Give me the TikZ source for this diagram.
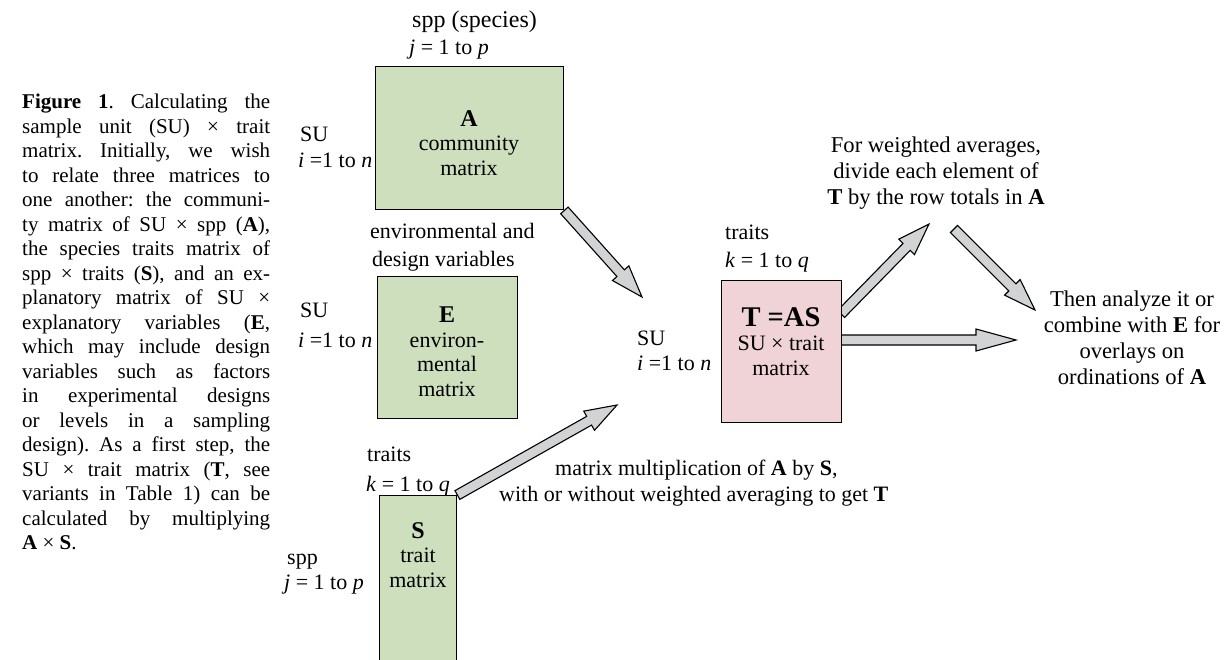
\documentclass[tikz,border=0pt]{standalone}
\usepackage{fontspec}
\setmainfont{Liberation Serif}
\usetikzlibrary{calc,backgrounds}
\definecolor{boxgreen}{RGB}{206,223,189}
\definecolor{boxpink}{RGB}{240,211,214}
\definecolor{arrowgray}{RGB}{210,211,213}
\tikzset{
  mbox/.style={draw=black, line width=1.4pt, inner sep=0pt, anchor=north west},
  boxtext/.style={inner sep=0pt, align=center, anchor=north, font=\fontsize{22}{24.5}\selectfont},
  lbl/.style={inner sep=0pt, anchor=base west, font=\fontsize{22}{26}\selectfont},
  ctext/.style={inner sep=0pt, align=center, font=\fontsize{22.6}{26}\selectfont},
  barrow/.style={draw=black, line width=1.1pt, fill=arrowgray, line join=miter},
  caption/.style={inner sep=0pt, anchor=north west, align=left, font=\fontsize{21}{24.5}\selectfont},
}
% block arrow from #2 to #3, head length #1
\newcommand{\blockarrow}[3][32pt]{%
  \coordinate (ba-hb) at ($(#3)!#1!(#2)$);
  \draw[barrow] ($(#2)!5pt!90:(#3)$) -- ($(ba-hb)!5pt!-90:(#2)$) -- ($(ba-hb)!11pt!-90:(#2)$)
     -- (#3) -- ($(ba-hb)!11pt!90:(#2)$) -- ($(ba-hb)!5pt!90:(#2)$) -- ($(#2)!5pt!-90:(#3)$) -- cycle;}
\newcommand{\cl}[1]{\makebox[248pt][s]{#1}}
\frenchspacing
\begin{document}
\begin{tikzpicture}[x=1pt,y=-1pt]
\useasboundingbox (0,0) rectangle (1229,659);

% caption
\node[caption] (cap) at (22,94) {%
\cl{\textbf{Figure 1}. Calculating the}\\
\cl{sample unit (SU) × trait}\\
\cl{matrix. Initially, we wish}\\
\cl{to relate three matrices to}\\
\cl{one another: the communi-}\\
\cl{ty matrix of SU × spp (\textbf{A}),}\\
\cl{the species traits matrix of}\\
\cl{spp × traits (\textbf{S}), and an ex-}\\
\cl{planatory matrix of SU ×}\\
\cl{explanatory variables (\textbf{E},}\\
\cl{which may include design}\\
\cl{variables such as factors}\\
\cl{in experimental designs}\\
\cl{or levels in a sampling}\\
\cl{design). As a first step, the}\\
\cl{SU × trait matrix (\textbf{T}, see}\\
\cl{variants in Table 1) can be}\\
\cl{calculated by multiplying}\\
\textbf{A} × \textbf{S}.};

% boxes
\node[mbox, fill=boxgreen, minimum width=188pt, minimum height=143pt] (A) at (375,66) {};
\node[mbox, fill=boxgreen, minimum width=140pt, minimum height=142pt] (E) at (377,276) {};
\node[mbox, fill=boxgreen, minimum width=77pt, minimum height=175pt] (S) at (379,495) {};
\node[mbox, fill=boxpink, minimum width=120pt, minimum height=142pt] (T) at (721,280) {};

\node[boxtext] (Atext) at (469,110) {{\fontsize{24}{24}\selectfont\textbf{A}}\\community\\matrix};
\node[boxtext] (Etext) at (447,307) {{\fontsize{24}{24}\selectfont\textbf{E}}\\environ-\\mental\\matrix};
\node[boxtext] (Stext) at (418,522) {{\fontsize{24}{24}\selectfont\textbf{S}}\\trait\\matrix};
\node[boxtext] (Ttext) at (781,307) {{\fontsize{28.5}{28.5}\selectfont\textbf{T =AS}}\\SU × trait\\matrix};

% labels
\node[lbl, font=\fontsize{24}{26}\selectfont] (sppA) at (412,27) {spp (species)};
\node[lbl] (jA) at (409,54) {\textit{j} = 1 to \textit{p}};
\node[lbl] (suA) at (300,141) {SU};
\node[lbl] (iA) at (298,167) {\textit{i} =1 to \textit{n}};
\node[lbl] (envA) at (370,238) {environmental and};
\node[lbl] (envB) at (372,266) {design variables};
\node[lbl] (suE) at (300,317) {SU};
\node[lbl] (iE) at (298,347) {\textit{i} =1 to \textit{n}};
\node[lbl] (trS) at (367,461) {traits};
\node[lbl] (kS) at (366,491) {\textit{k} = 1 to \textit{q}};
\node[lbl] (sppS) at (287,564) {spp};
\node[lbl] (jS) at (284,589) {\textit{j} = 1 to \textit{p}};
\node[lbl] (trT) at (725,239) {traits};
\node[lbl] (kT) at (725,267) {\textit{k} = 1 to \textit{q}};
\node[lbl] (suT) at (637,345) {SU};
\node[lbl] (iT) at (637,370) {\textit{i} =1 to \textit{n}};

\node[lbl, align=left] (mult) at (499,501) {\hspace*{56pt}matrix multiplication of \textbf{A} by \textbf{S},\\with or without weighted averaging to get \textbf{T}};
\node[ctext] (wavg) at (936,173) {For weighted averages,\\divide each element of\\\textbf{T} by the row totals in \textbf{A}};
\node[ctext] (anal) at (1132,338) {Then analyze it or\\combine with \textbf{E} for\\overlays on\\ordinations of \textbf{A}};

% arrow end points
\coordinate (tip1) at (642,297);
\coordinate (tip2) at (617,405);
\coordinate (t3s) at (841,314);
\coordinate (tip3) at (929,224);
\coordinate (t4s) at (954,229);
\coordinate (tip4) at (1035,310);
\coordinate (t5s) at (841,340);
\coordinate (tip5) at (1016,340);

\begin{scope}[on background layer]
\fill[white] (0,0) rectangle (1229,659);
\blockarrow{A.south east}{tip1}
\blockarrow{S.north east}{tip2}
\blockarrow{t3s}{tip3}
\blockarrow{t4s}{tip4}
\blockarrow[40pt]{t5s}{tip5}
\end{scope}
\end{tikzpicture}
\end{document}
